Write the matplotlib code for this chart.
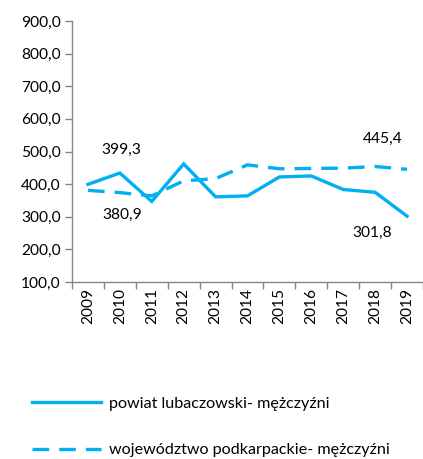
import matplotlib
matplotlib.use('Agg')
import matplotlib.pyplot as plt

plt.rcParams['font.family'] = ['Lato', 'DejaVu Sans']

lata = ['2009', '2010', '2011', '2012', '2013', '2014', '2015', '2016', '2017', '2018', '2019']
powiat = [399.3, 434.0, 347.0, 462.0, 361.0, 364.0, 422.0, 425.0, 383.5, 375.0, 301.8]
wojewodztwo = [380.9, 374.0, 364.0, 410.0, 417.0, 459.0, 447.0, 448.0, 449.0, 454.0, 445.4]
y_ticks = [100, 200, 300, 400, 500, 600, 700, 800, 900]

KOLOR = '#00B0F0'
SZARY = '#868686'
FS = 11.2

fig = plt.figure(figsize=(4.23, 4.59), dpi=100)
ax = fig.add_axes([72 / 423, 1 - 282 / 459, 1 - 72 / 423, (282 - 21) / 459])

x = list(range(len(lata)))
ax.plot(x, powiat, color=KOLOR, linewidth=2.4, solid_joinstyle='miter',
        label='powiat lubaczowski- mężczyźni')
ax.plot(x, wojewodztwo, color=KOLOR, linewidth=2.4, linestyle=(0, (5.0, 3.0)),
        dash_capstyle='butt', label='województwo podkarpackie- mężczyźni')

# etykiety wartości pierwszego i ostatniego roku
ax.text(1.06, 505, f'{powiat[0]:.1f}'.replace('.', ','), ha='center', va='center', fontsize=FS)
ax.text(1.06, 306, f'{wojewodztwo[0]:.1f}'.replace('.', ','), ha='center', va='center', fontsize=FS)
ax.text(9.25, 539, f'{wojewodztwo[-1]:.1f}'.replace('.', ','), ha='center', va='center', fontsize=FS)
ax.text(8.9, 251, f'{powiat[-1]:.1f}'.replace('.', ','), ha='center', va='center', fontsize=FS)

ax.set_xlim(-0.5, len(lata) - 0.5)
ax.set_ylim(100, 900)
ax.set_yticks(y_ticks)
ax.set_yticklabels([f'{v:.1f}'.replace('.', ',') for v in y_ticks], fontsize=FS)
ax.set_xticks(x)
ax.set_xticklabels(lata, rotation=90, fontsize=FS)
ax.set_xticks([i - 0.5 for i in range(len(lata) + 1)], minor=True)

ax.tick_params(axis='x', which='major', length=0, pad=4)
ax.tick_params(axis='x', which='minor', length=5, color=SZARY, width=1)
ax.tick_params(axis='y', length=5, color=SZARY, width=1, pad=3)

for s in ['top', 'right']:
    ax.spines[s].set_visible(False)
for s in ['left', 'bottom']:
    ax.spines[s].set_color(SZARY)
    ax.spines[s].set_linewidth(1)

fig.legend(loc='center left', bbox_to_anchor=(32 / 423, 1 - 427 / 459),
           frameon=False, fontsize=11.6, handlelength=4.3, handletextpad=0.5,
           labelspacing=2.0, borderpad=0, borderaxespad=0)

fig.savefig('out.png', dpi=100)
